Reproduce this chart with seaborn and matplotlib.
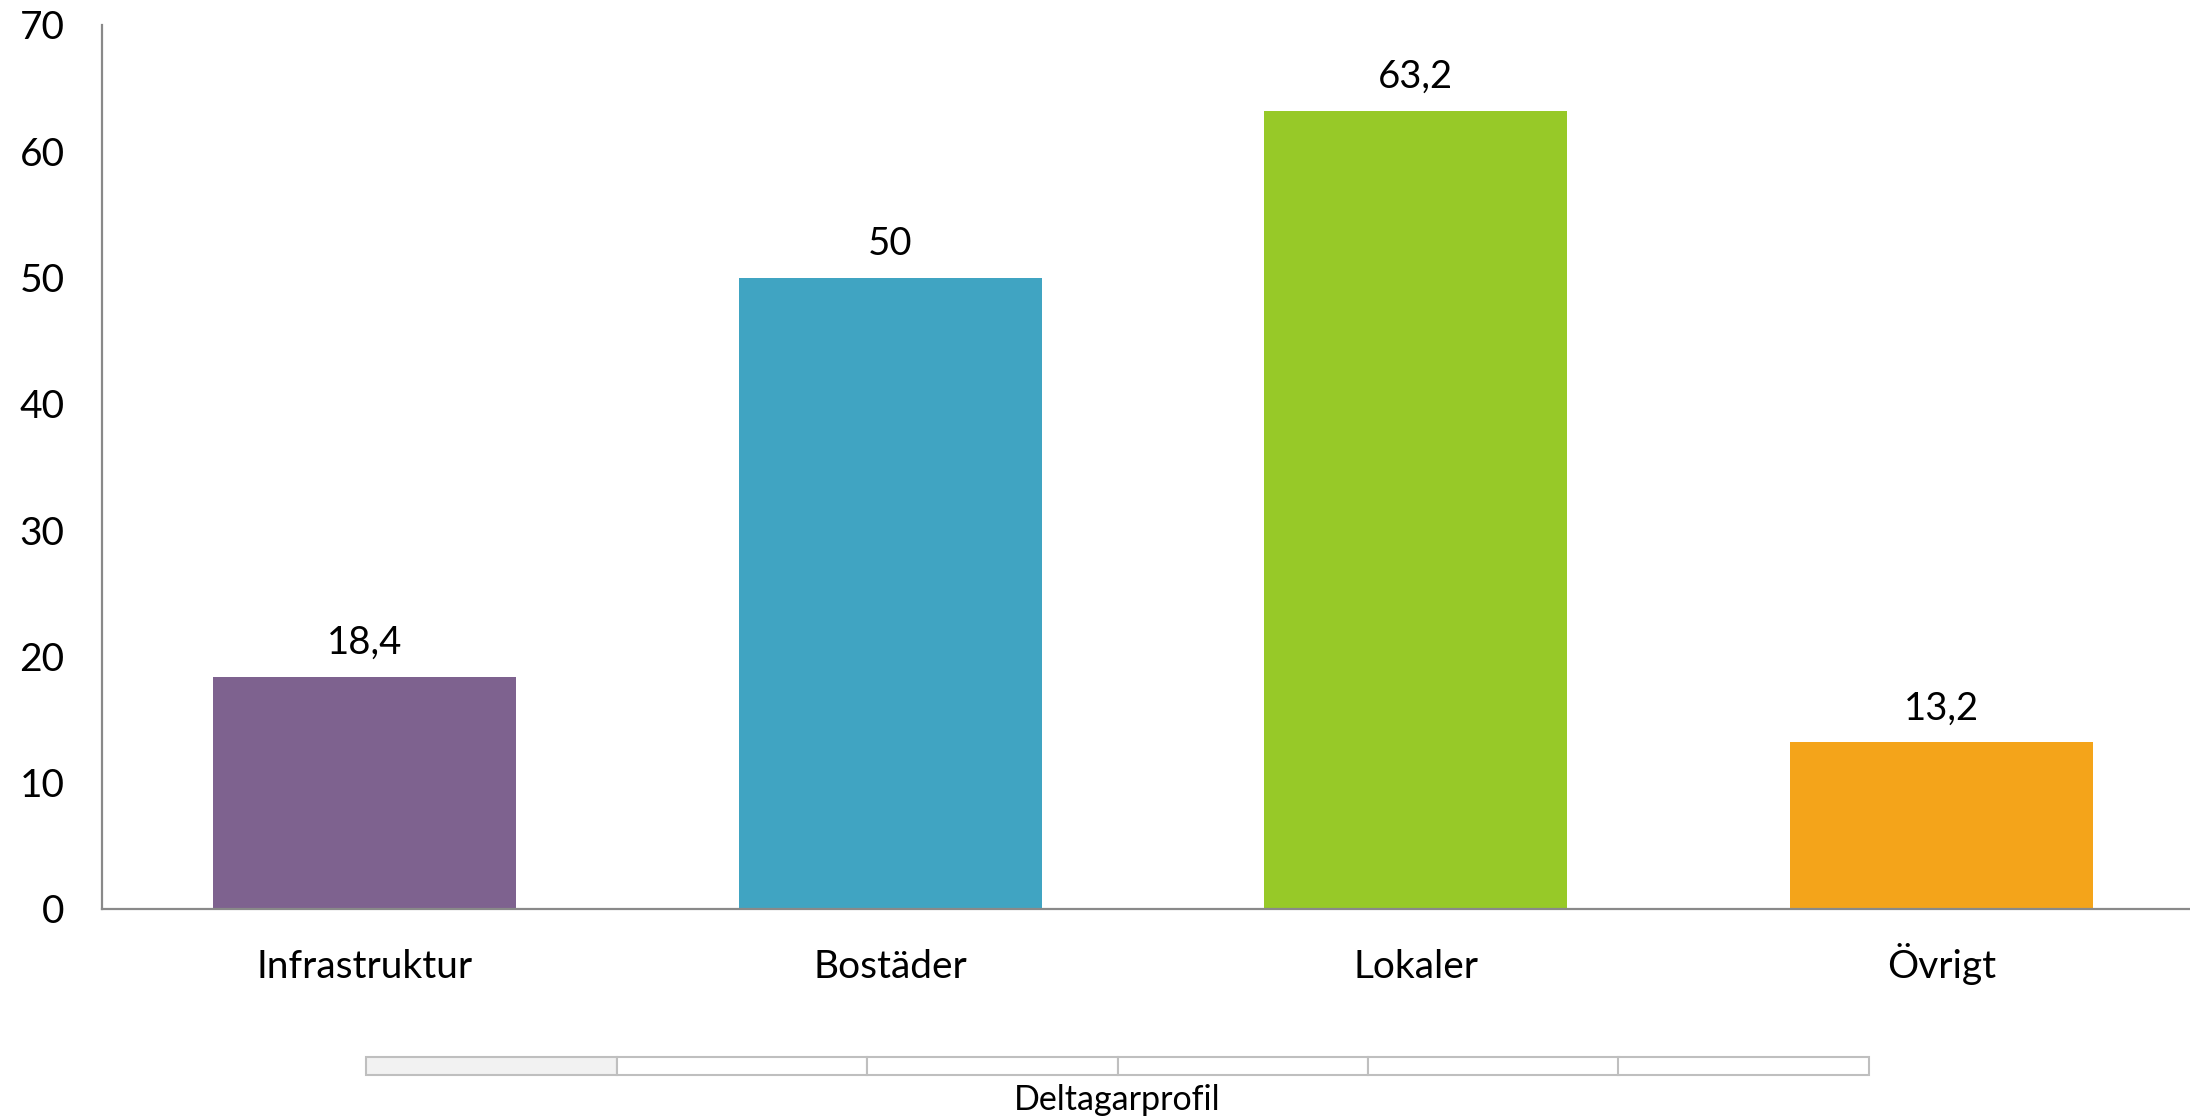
import matplotlib
matplotlib.use("Agg")
import matplotlib.pyplot as plt
from matplotlib.patches import Rectangle
import seaborn as sns
import pandas as pd

# Data
categories = ["Infrastruktur", "Bostäder", "Lokaler", "Övrigt"]
values = [18.4, 50, 63.2, 13.2]
colors = ["#7E628F", "#40A4C2", "#97C928", "#F4A41A"]
y_ticks = [0, 10, 20, 30, 40, 50, 60, 70]
field_label = "Deltagarprofil"
n_field_cells = 6

sns.set_style("white")
plt.rcParams["font.family"] = ["Lato", "DejaVu Sans"]

df = pd.DataFrame({"kategori": categories, "andel": values})

fig = plt.figure(figsize=(21.9, 11.2), dpi=100)
ax = fig.add_axes([0.0466, 0.1884, 0.9598, 0.7893])

sns.barplot(data=df, x="kategori", y="andel", hue="kategori",
            palette=colors, width=0.577, legend=False, ax=ax,
            saturation=1, linewidth=0)

ax.set_xlim(-0.5, len(categories) - 0.5)
ax.set_ylim(0, 70)
ax.set_yticks(y_ticks)
ax.set_xlabel("")
ax.set_ylabel("")

for s in ["top", "right"]:
    ax.spines[s].set_visible(False)
for s in ["left", "bottom"]:
    ax.spines[s].set_color("#898989")
    ax.spines[s].set_linewidth(1.6)

ax.tick_params(axis="y", length=0, pad=27, labelsize=28, labelcolor="black")
ax.tick_params(axis="x", length=0, pad=50, labelsize=28, labelcolor="black")
# Align category names on a common baseline
for lbl in ax.get_xticklabels():
    lbl.set_verticalalignment("baseline")

# Value labels above the bars
for i, v in enumerate(values):
    txt = f"{v:g}".replace(".", ",")
    ax.annotate(txt, (i, v), xytext=(0, 16.5), textcoords="offset points",
                ha="center", va="baseline", fontsize=27.5, color="black")

# Field button row below the chart
x0, x1 = 366 / 2190, 1869 / 2190
yb, yt = 45 / 1120, 63 / 1120
cw = (x1 - x0) / n_field_cells
for k in range(n_field_cells):
    fig.add_artist(Rectangle((x0 + k * cw, yb), cw, yt - yb,
                             transform=fig.transFigure,
                             facecolor="#F2F2F2" if k == 0 else "white",
                             edgecolor="#BFBFBF", linewidth=1.5))
fig.text((x0 + x1) / 2, 20 / 1120, field_label, ha="center", va="center",
         fontsize=24.5, color="black")

fig.savefig("out.png", dpi=100)
